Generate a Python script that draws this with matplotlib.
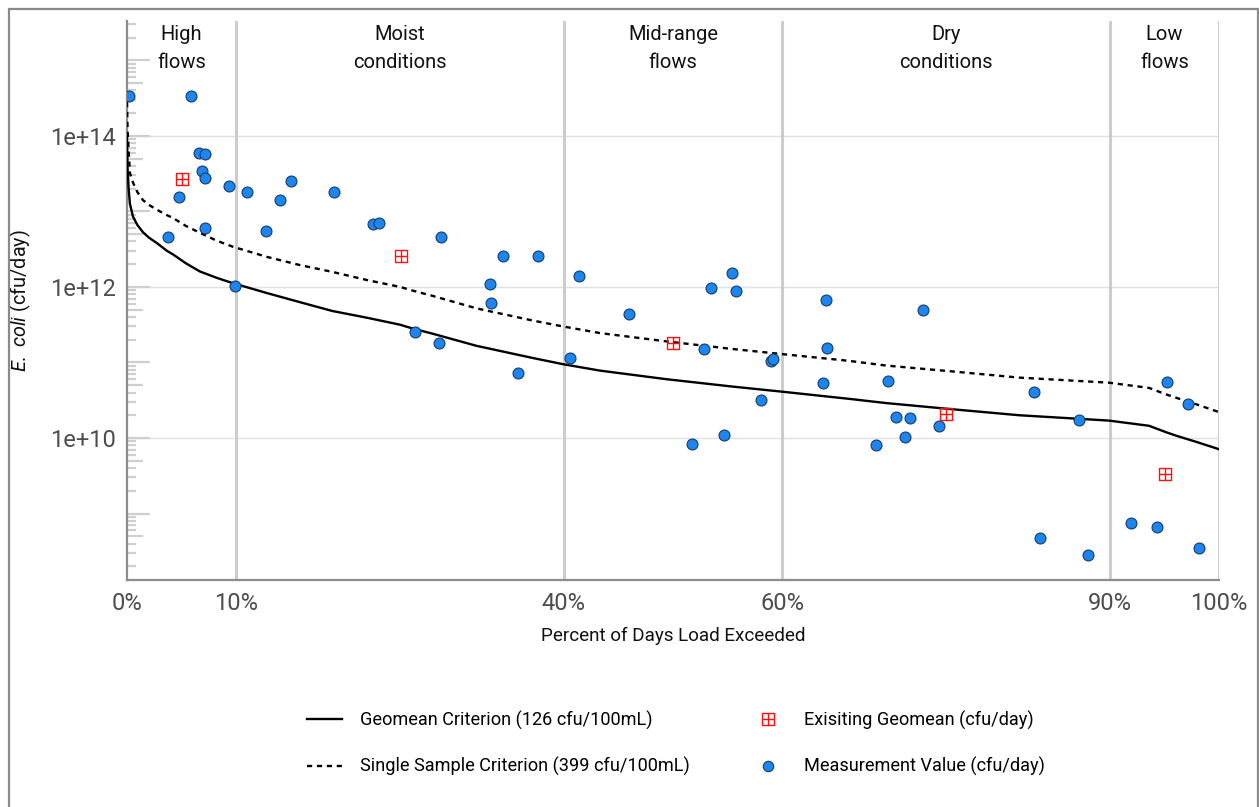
import matplotlib
matplotlib.use("Agg")
import matplotlib.pyplot as plt
import numpy as np
from matplotlib.path import Path
from matplotlib.lines import Line2D
from matplotlib.patches import Rectangle

# ---------------- data ----------------
# Load duration curves (percent of days exceeded, load cfu/day)
curve_pct = [0.0, 0.05, 0.15, 0.27, 0.55, 0.95, 1.46, 2.0, 2.74, 3.66, 4.2, 5.4, 6.68, 8.2,
             9.7, 12.8, 15.8, 18.8, 22.0, 25.0, 26.2, 28.0, 32.0, 37.1, 39.9, 43.3, 49.4,
             55.4, 60.0, 66.1, 69.5, 75.6, 81.7, 89.9, 93.6, 95.1, 96.1, 97.9, 100.0]
geomean_load = [9.5e13, 3.8e13, 2.0e13, 1.25e13, 8.5e12, 6.6e12, 5.3e12, 4.5e12, 3.8e12,
                3.0e12, 2.7e12, 2.05e12, 1.6e12, 1.32e12, 1.12e12, 8.3e11, 6.3e11, 4.8e11,
                3.9e11, 3.16e11, 2.8e11, 2.4e11, 1.66e11, 1.15e11, 9.5e10, 7.8e10, 6.0e10,
                4.8e10, 4.1e10, 3.3e10, 2.9e10, 2.4e10, 2.0e10, 1.7e10, 1.45e10, 1.2e10,
                1.07e10, 8.9e9, 7.1e9]
single_load = [2.8e14, 1.25e14, 6.3e13, 3.2e13, 2.4e13, 1.8e13, 1.41e13, 1.22e13, 1.05e13,
               8.9e12, 8.2e12, 6.4e12, 5.2e12, 4.1e12, 3.4e12, 2.5e12, 1.95e12, 1.58e12,
               1.23e12, 1.0e12, 8.9e11, 7.6e11, 5.2e11, 3.6e11, 3.0e11, 2.45e11, 1.9e11,
               1.51e11, 1.29e11, 1.05e11, 9.1e10, 7.6e10, 6.3e10, 5.4e10, 4.6e10, 3.8e10,
               3.4e10, 2.8e10, 2.2e10]

# Measurement values
meas_pct = [0.15, 5.9, 6.6, 7.1, 6.9, 7.1, 4.8, 7.1, 3.8, 9.3, 11.0, 14.0, 15.0, 12.7, 9.9,
            19.0, 22.5, 23.1, 28.8, 34.4, 37.6, 33.2, 33.3, 41.4, 46.0, 53.5, 55.4, 55.8,
            64.0, 26.4, 28.6, 35.8, 40.6, 51.7, 54.7, 52.8, 58.1, 59.0, 59.2, 63.7, 64.1,
            72.9, 69.7, 70.4, 71.7, 68.6, 71.2, 74.4, 83.1, 87.2, 83.6, 88.0, 91.9, 94.3,
            95.2, 97.2, 98.2]
meas_log = [14.53, 14.53, 13.77, 13.76, 13.54, 13.44, 13.19, 12.78, 12.66, 13.34, 13.26,
            13.15, 13.40, 12.74, 12.01, 13.26, 12.83, 12.85, 12.66, 12.41, 12.41, 12.04,
            11.79, 12.15, 11.64, 11.99, 12.19, 11.95, 11.83, 11.40, 11.26, 10.86, 11.06,
            9.92, 10.04, 11.18, 10.50, 11.02, 11.04, 10.73, 11.19, 11.70, 10.75, 10.28,
            10.26, 9.91, 10.01, 10.16, 10.61, 10.24, 8.68, 8.45, 8.87, 8.82, 10.74, 10.45,
            8.54]
meas_load = [10 ** v for v in meas_log]

# Existing geomean per flow regime
geo_pct = [5.0, 25.1, 50.0, 75.0, 95.1]
geo_load = [2.7e13, 2.6e12, 1.8e11, 2.1e10, 3.3e9]

# Flow regimes
regime_breaks = [10, 40, 60, 90, 100]
regime_centers = [5, 25, 50, 75, 95]
regime_labels = ["High\nflows", "Moist\nconditions", "Mid-range\nflows",
                 "Dry\nconditions", "Low\nflows"]

x_ticks = [0, 10, 40, 60, 90, 100]
x_ticklabels = ["0%", "10%", "40%", "60%", "90%", "100%"]
y_ticks = [1e10, 1e12, 1e14]
y_ticklabels = ["1e+10", "1e+12", "1e+14"]

# ---------------- figure ----------------
W, H = 1259, 807
DPI = 100
plt.rcParams['mathtext.fontset'] = 'custom'
plt.rcParams['mathtext.it'] = 'Roboto:italic'
plt.rcParams['mathtext.rm'] = 'Roboto'

fig = plt.figure(figsize=(W / DPI, H / DPI), dpi=DPI)
ax = fig.add_axes([127 / W, 1 - 580 / H, (1219 - 127) / W, (580 - 21) / H])

ax.set_yscale('log')
ax.set_xlim(0, 100)
ax.set_ylim(10 ** 8.12, 10 ** 15.52)

for s in ['top', 'right']:
    ax.spines[s].set_visible(False)
for s in ['left', 'bottom']:
    ax.spines[s].set_color('#8c8c8c')
    ax.spines[s].set_linewidth(1.6)

# horizontal gridlines
for v in y_ticks:
    ax.axhline(v, color='#e0e0e0', lw=1.0, zorder=0)
# vertical regime lines
for b in regime_breaks:
    ax.axvline(b, color='#cccccc', lw=2.2, zorder=0.5)

# log tick annotation
ytf = ax.get_yaxis_transform()
axw = 1219 - 127
for dec in range(8, 16):
    for k in range(1, 10):
        v = k * 10.0 ** dec
        if v < 10 ** 8.12 or v > 10 ** 15.52:
            continue
        L = 23 if k == 1 else (16 if k == 5 else 9)
        ax.plot([0, L / axw], [v, v], transform=ytf, color='#cfcfcf', lw=1.6,
                solid_capstyle='butt', zorder=0.6, clip_on=False)

# curves
ax.plot(curve_pct, geomean_load, color='black', lw=1.7, zorder=3)
ax.plot(curve_pct, single_load, color='black', lw=1.7, ls=(0, (2.2, 2)), zorder=3)

# measurement points
ax.scatter(meas_pct, meas_load, s=62, facecolor='#1C86EE', edgecolor='#153d6b',
           linewidth=0.8, zorder=4, clip_on=True)

# existing geomean marker: square with plus
sq_plus = Path([(-1, -1), (1, -1), (1, 1), (-1, 1), (-1, -1),
                (0, -1), (0, 1), (-1, 0), (1, 0)],
               [Path.MOVETO, Path.LINETO, Path.LINETO, Path.LINETO, Path.CLOSEPOLY,
                Path.MOVETO, Path.LINETO, Path.MOVETO, Path.LINETO])
ax.plot(geo_pct, geo_load, ls='none', marker=sq_plus, markersize=8,
        markerfacecolor='none', markeredgecolor='#FF1010', markeredgewidth=1.0, zorder=5)

# regime labels
xtf = ax.get_xaxis_transform()
for c, lab in zip(regime_centers, regime_labels):
    ax.text(c, (580 - 48.5) / 559, lab, transform=xtf, ha='center', va='center',
            fontsize=14.5, family='Roboto', linespacing=1.55, color='#111111')

# ticks
ax.set_xticks(x_ticks)
ax.set_xticklabels(x_ticklabels)
ax.set_yticks(y_ticks)
ax.set_yticklabels(y_ticklabels)
ax.yaxis.set_minor_locator(matplotlib.ticker.NullLocator())
ax.tick_params(axis='both', length=0, labelsize=17, labelcolor='#4d4d4d')
ax.tick_params(axis='y', pad=8)
ax.tick_params(axis='x', pad=9)
for t in ax.get_xticklabels() + ax.get_yticklabels():
    t.set_family('Roboto')

ax.set_xlabel("Percent of Days Load Exceeded", fontsize=13.6, family='Roboto',
              labelpad=8, color='#111111')
ax.set_ylabel(r"$\it{E.\ coli}$ (cfu/day)", fontsize=14.3, family='Roboto',
              labelpad=10, color='#111111')
ax.yaxis.set_label_coords(-(127 - 33) / axw, 0.5)

# legend
handles = [
    Line2D([], [], color='black', lw=1.7),
    Line2D([], [], color='black', lw=1.7, ls=(0, (2.2, 2))),
    Line2D([], [], ls='none', marker=sq_plus, markersize=8, markerfacecolor='none',
           markeredgecolor='#FF1010', markeredgewidth=1.0),
    Line2D([], [], ls='none', marker='o', markersize=7.5, markerfacecolor='#1C86EE',
           markeredgecolor='#153d6b', markeredgewidth=0.8),
]
labels = ["Geomean Criterion (126 cfu/100mL)", "Single Sample Criterion (399 cfu/100mL)",
          "Exisiting Geomean (cfu/day)", "Measurement Value (cfu/day)"]
fig.legend(handles, labels, ncol=2, loc='center', bbox_to_anchor=(675.5 / W, 1 - 743.5 / H),
           frameon=False, prop={'family': 'Roboto', 'size': 13.1},
           handlelength=1.92, handletextpad=1.0, columnspacing=3.35, labelspacing=1.5)

# outer border
fig.patches.append(Rectangle((8.5 / W, -0.02), (1258 - 8.5) / W, 1 - 8.5 / H + 0.02,
                             transform=fig.transFigure, fill=False,
                             edgecolor='#8a8a8a', lw=1.6))

fig.savefig("out.png", dpi=DPI)
